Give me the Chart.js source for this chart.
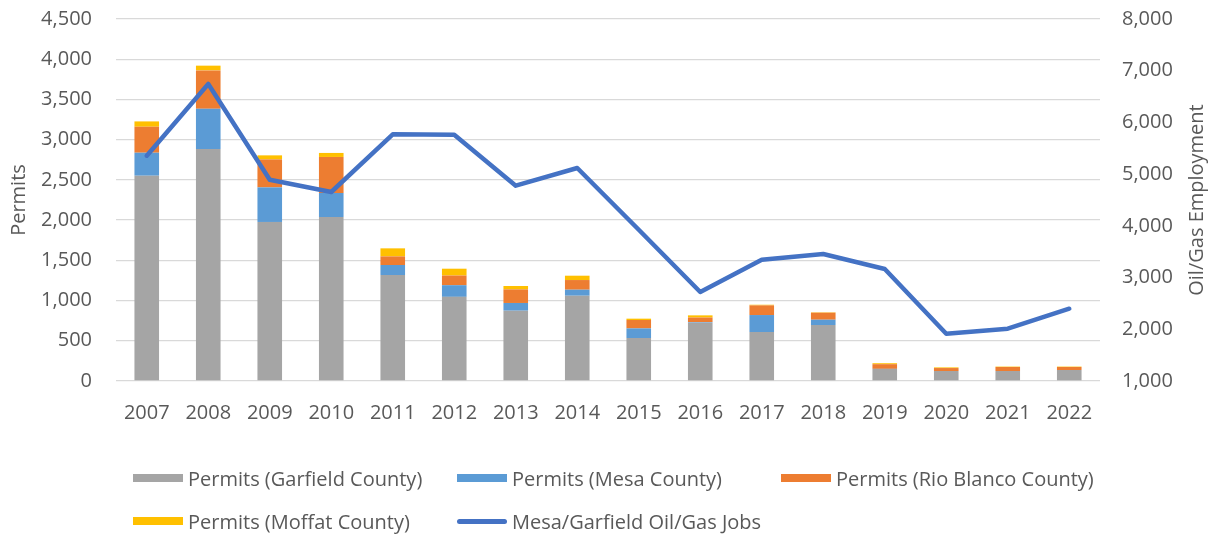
<!DOCTYPE html>
<html>
<head>
<meta charset="utf-8">
<script src="https://cdn.jsdelivr.net/npm/chart.js@4/dist/chart.umd.min.js"></script>
<style>
  body { margin: 0; background: #fff; }
  #wrap { position: relative; width: 1215px; height: 536px; }
  #legend { position: absolute; left: 133px; top: 466px; width: 1000px;
            display: grid; grid-template-columns: 324px 324px 324px; row-gap: 19px;
            font-family: "Open Sans", sans-serif; font-size: 20px; color: #595959; }
  .item { display: flex; align-items: center; height: 24px; white-space: nowrap; }
  .swatch { width: 50px; height: 8px; margin-right: 5px; flex: none; }
  .swatch.line { height: 5px; border-radius: 3px; }
</style>
</head>
<body>
<div id="wrap">
  <canvas id="chart" width="1215" height="536"></canvas>
  <div id="legend"></div>
</div>
<script>
// --- Données ---
const years = ['2007', '2008', '2009', '2010', '2011', '2012', '2013', '2014',
               '2015', '2016', '2017', '2018', '2019', '2020', '2021', '2022'];
const permitsGarfield = [2552, 2884, 1977, 2039, 1318, 1046, 874, 1060, 534, 725, 609, 696, 149, 124, 124, 137];
const permitsMesa     = [286, 501, 430, 298, 124, 145, 96, 75, 120, 8, 211, 66, 2, 0, 0, 0];
const permitsRioBlanco = [323, 476, 348, 448, 107, 120, 169, 120, 104, 56, 120, 87, 58, 37, 50, 37];
const permitsMoffat   = [66, 59, 50, 50, 100, 85, 42, 54, 17, 27, 8, 5, 12, 8, 5, 5];
const oilGasJobs = [5357, 6743, 4893, 4655, 5769, 5762, 4777, 5119, 3925, 2721, 3346, 3456, 3166, 1915, 2011, 2398];

const textColor = '#595959';
const gridColor = '#d9d9d9';
const font = { family: '"Open Sans", sans-serif', size: 20 };

const barSeries = [
    { label: 'Permits (Garfield County)', data: permitsGarfield, color: '#a5a5a5' },
    { label: 'Permits (Mesa County)', data: permitsMesa, color: '#5b9bd5' },
    { label: 'Permits (Rio Blanco County)', data: permitsRioBlanco, color: '#ed7d31' },
    { label: 'Permits (Moffat County)', data: permitsMoffat, color: '#ffc000' }
];

const datasets = barSeries.map(s => ({
    type: 'bar',
    label: s.label,
    data: s.data,
    backgroundColor: s.color,
    yAxisID: 'y',
    stack: 'permits',
    order: 1,
    categoryPercentage: 0.8,
    barPercentage: 0.5
}));
datasets.push({
    type: 'line',
    label: 'Mesa/Garfield Oil/Gas Jobs',
    data: oilGasJobs,
    borderColor: '#4472c4',
    backgroundColor: '#4472c4',
    borderWidth: 4.5,
    borderJoinStyle: 'round',
    borderCapStyle: 'round',
    pointRadius: 0,
    tension: 0,
    yAxisID: 'y1',
    order: 0
});

// Titre de l'axe droit, lu de bas en haut comme dans Excel
const rightTitle = {
    id: 'rightTitle',
    afterDraw(c) {
        const ctx = c.ctx;
        const area = c.chartArea;
        ctx.save();
        ctx.translate(1197, (area.top + area.bottom) / 2);
        ctx.rotate(-Math.PI / 2);
        ctx.font = '20px "Open Sans", sans-serif';
        ctx.fillStyle = textColor;
        ctx.textAlign = 'center';
        ctx.textBaseline = 'middle';
        ctx.fillText('Oil/Gas Employment', 0, 0);
        ctx.restore();
    }
};

const chart = new Chart(document.getElementById('chart'), {
    type: 'bar',
    data: { labels: years, datasets: datasets },
    options: {
        responsive: false,
        animation: false,
        layout: { padding: { top: 19, right: 0, left: 0, bottom: 0 } },
        plugins: { legend: { display: false }, tooltip: { enabled: false } },
        scales: {
            x: {
                stacked: true,
                grid: { display: false },
                border: { display: false },
                ticks: { color: textColor, font: font, padding: 12, maxRotation: 0 },
                afterFit: s => { s.height = 155; }
            },
            y: {
                stacked: true,
                position: 'left',
                min: 0, max: 4500,
                // tickLength transparent pour décaler les étiquettes sans gonfler le padding haut
                grid: { color: gridColor, lineWidth: 1.3, drawTicks: true, tickLength: 24, tickColor: 'rgba(0,0,0,0)' },
                border: { display: false },
                ticks: { stepSize: 500, color: textColor, font: font, padding: 0 },
                title: { display: true, text: 'Permits', color: textColor, font: font, padding: { top: 7, bottom: 0 } },
                afterFit: s => { s.width = 116; }
            },
            y1: {
                position: 'right',
                min: 1000, max: 8000,
                grid: { drawOnChartArea: false, drawTicks: true, tickLength: 22, tickColor: 'rgba(0,0,0,0)' },
                border: { display: false },
                ticks: { stepSize: 1000, color: textColor, font: font, padding: 0 },
                afterFit: s => { s.width = 115; }
            }
        }
    },
    plugins: [rightTitle]
});

// --- Légende HTML (grille comme dans Excel) ---
const legendEl = document.getElementById('legend');
chart.data.datasets.forEach(ds => {
    const item = document.createElement('div');
    item.className = 'item';
    const sw = document.createElement('span');
    sw.className = 'swatch' + (ds.type === 'line' ? ' line' : '');
    sw.style.background = ds.type === 'line' ? ds.borderColor : ds.backgroundColor;
    item.appendChild(sw);
    item.appendChild(document.createTextNode(ds.label));
    legendEl.appendChild(item);
});
</script>
</body>
</html>
